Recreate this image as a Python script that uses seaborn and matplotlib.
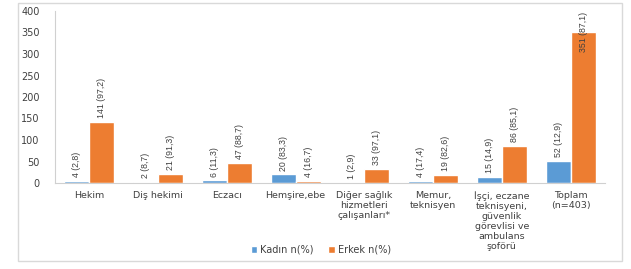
import matplotlib
matplotlib.use("Agg")
import matplotlib.pyplot as plt
import seaborn as sns
import pandas as pd
from matplotlib.patches import Rectangle

categories = ["Hekim", "Diş hekimi", "Eczacı", "Hemşire,ebe",
              "Diğer sağlık\nhizmetleri\nçalışanları*", "Memur,\nteknisyen",
              "İşçi, eczane\nteknisyeni,\ngüvenlik\ngörevlisi ve\nambulans\nşoförü",
              "Toplam\n(n=403)"]
kadin = [4, 2, 6, 20, 1, 4, 15, 52]
erkek = [141, 21, 47, 4, 33, 19, 86, 351]
kadin_lbl = ["4 (2,8)", "2 (8,7)", "6 (11,3)", "20 (83,3)", "1 (2,9)", "4 (17,4)", "15 (14,9)", "52 (12,9)"]
erkek_lbl = ["141 (97,2)", "21 (91,3)", "47 (88,7)", "4 (16,7)", "33 (97,1)", "19 (82,6)", "86 (85,1)", "351 (87,1)"]
series = ["Kadın n(%)", "Erkek n(%)"]

df = pd.DataFrame({
    "cat": categories * 2,
    "val": kadin + erkek,
    "ser": [series[0]] * len(categories) + [series[1]] * len(categories),
})

sns.set_style("white")
plt.rcParams['font.family'] = ['DejaVu Sans']

fig = plt.figure(figsize=(6.31, 2.69), dpi=100)
ax = fig.add_axes([55/631, 1-183/269, 550/631, 172/269])
sns.barplot(data=df, x="cat", y="val", hue="ser", hue_order=series,
            palette=["#5B9BD5", "#ED7D31"], width=0.73, saturation=1,
            ax=ax, legend=True)

ax.set_ylim(0, 400)
ax.set_xlim(-0.5, len(categories) - 0.5)
ax.set_yticks(range(0, 401, 50))
ax.set_xlabel("")
ax.set_ylabel("")
ax.tick_params(axis='y', length=0, pad=11, labelsize=7, colors="#404040")
ax.tick_params(axis='x', length=0, pad=6, labelsize=6.8, colors="#404040")
for lab in ax.get_xticklabels():
    lab.set_linespacing(1.13)
    lab.set_verticalalignment('top')
for s in ["top", "right"]:
    ax.spines[s].set_visible(False)
ax.spines["left"].set_color("#D0D0D0")
ax.spines["bottom"].set_color("#D0D0D0")

lbl_font = dict(family=['Liberation Sans Narrow', 'Liberation Sans', 'DejaVu Sans'], size=6.3, color="#404040")
for container, labels in zip(ax.containers, [kadin_lbl, erkek_lbl]):
    for bar, txt in zip(container, labels):
        h = bar.get_height()
        x = bar.get_x() + bar.get_width() / 2
        if h + 95 > 400:
            ax.text(x, 397, txt, rotation=90, ha='center', va='top', **lbl_font)
        else:
            ax.text(x, h + 9, txt, rotation=90, ha='center', va='bottom', **lbl_font)

leg = ax.legend(loc='center', bbox_to_anchor=(321/631, 1-250/269), bbox_transform=fig.transFigure,
                ncol=2, frameon=False, fontsize=7, handlelength=0.7, handleheight=0.7,
                handletextpad=0.3, columnspacing=1.5)
for t in leg.get_texts():
    t.set_color("#404040")

fig.patches.append(Rectangle((18/631, 1-261/269), 604/631, 258/269, transform=fig.transFigure,
                             fill=False, edgecolor="#D9D9D9", linewidth=1))

fig.savefig("out.png", dpi=100)
